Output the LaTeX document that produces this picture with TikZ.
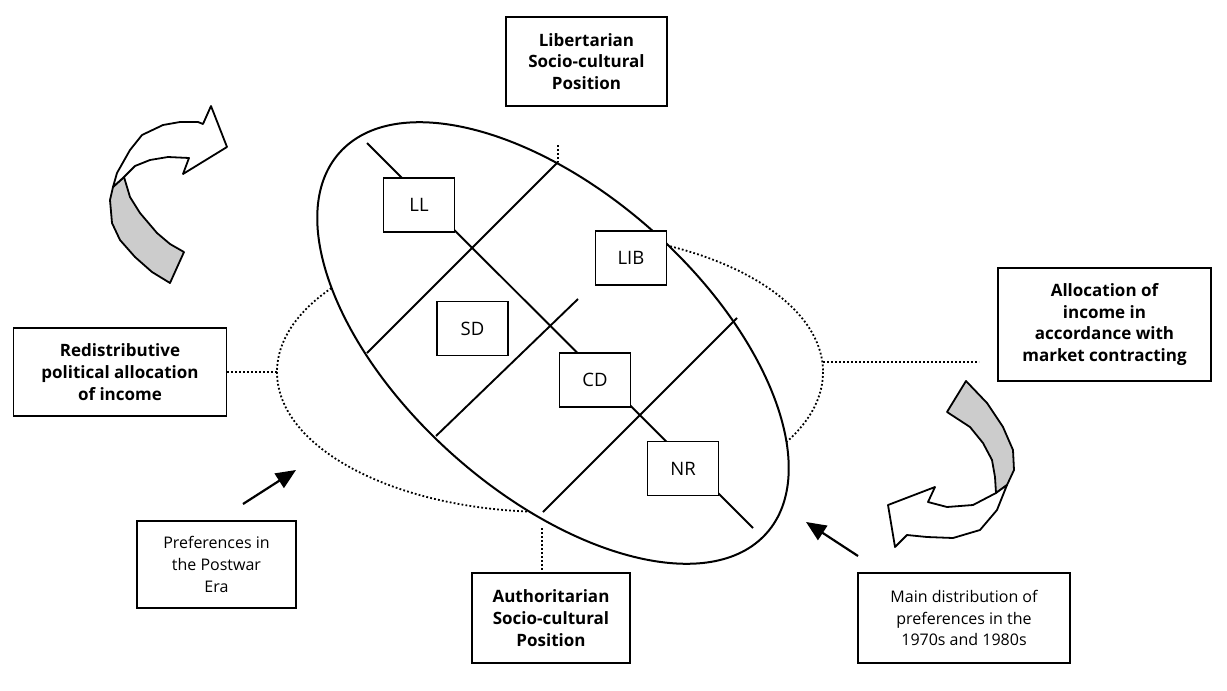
\documentclass[tikz,border=0pt]{standalone}
\usepackage{fontspec}
\setmainfont{Open Sans}
\usetikzlibrary{arrows.meta}
\begin{document}
\begin{tikzpicture}[x=1pt,y=-1pt,
  box/.style={draw, line width=1.9pt, fill=white, align=center, inner sep=0pt},
  bigbox/.style={box, font=\bfseries\fontsize{17}{21.8}\selectfont},
  smallbox/.style={box, font=\fontsize{16}{21.7}\selectfont},
  party/.style={box, font=\fontsize{18.5}{22}\selectfont, minimum width=71pt, minimum height=54pt},
  axisline/.style={line width=1.9pt},
  dotline/.style={line width=1.8pt, dash pattern=on 1.8pt off 2.2pt},
  ptr/.style={line width=2.2pt, -{Triangle[length=20pt,width=17pt]}},
  ribbon/.style={line width=1.8pt, line join=round}
]
\useasboundingbox (0,0) rectangle (1227,691);
\fill[white] (0,0) rectangle (1227,691);

% coordinates
\coordinate (dl) at (277,372);
\coordinate (dr) at (823,362);
\coordinate (drend) at (979,362);
\coordinate (d1) at (367,143);
\coordinate (d2) at (753,528);
\coordinate (a1) at (558,162);
\coordinate (a2) at (367,353);
\coordinate (b1) at (578,299);
\coordinate (b2) at (436,436);
\coordinate (c1) at (737,318);
\coordinate (c2) at (543,512);
\coordinate (libdot) at (558,145);
\coordinate (authdot) at (542,528);
\coordinate (authtop) at (542,573);
\coordinate (p1) at (243,504);
\coordinate (p2) at (296,470);
\coordinate (m1) at (858,556);
\coordinate (m2) at (806,522);

% dotted ellipse
\draw[dotline] (550,372) ellipse [x radius=273, y radius=140];
% main ellipse
\draw[line width=2pt, fill=white, rotate around={-41.7:(553,343)}] (553,343) ellipse [x radius=286, y radius=150];

% axes
\draw[axisline] (d1) -- (d2);
\draw[axisline] (a1) -- (a2);
\draw[axisline] (b1) -- (b2);
\draw[axisline] (c1) -- (c2);

% outer boxes
\node[bigbox, minimum width=161pt, minimum height=89pt] (lib) at (586.5,61.5) {Libertarian\\Socio-cultural\\Position};
\node[bigbox, minimum width=213pt, minimum height=113pt] (alloc) at (1104.5,324.5) {Allocation of\\income in\\accordance with\\market contracting};
\node[bigbox, minimum width=213pt, minimum height=88pt] (redis) at (120,372) {Redistributive\\political allocation\\of income};
\node[bigbox, minimum width=158pt, minimum height=90pt] (auth) at (551,618) {Authoritarian\\Socio-cultural\\Position};
\node[smallbox, minimum width=159pt, minimum height=87pt] (pref) at (216.5,564.5) {Preferences in\\the Postwar\\Era};
\node[smallbox, minimum width=212pt, minimum height=90pt] (mainbox) at (964,618) {Main distribution of\\preferences in the\\1970s and 1980s};

% party boxes
\node[party] (LL) at (419,205) {LL};
\node[party] (LIB) at (631,258) {LIB};
\node[party] (SD) at (472.5,328.5) {SD};
\node[party] (CD) at (595,380) {CD};
\node[party] (NR) at (683,468.5) {NR};

% dotted connectors
\draw[dotline] (redis.east) -- (dl);
\draw[dotline] (dr) -- (drend);
\draw[dotline] (authdot) -- (authtop);
\draw[dotline] (libdot) -- (a1);

% pointer arrows
\draw[ptr] (p1) -- (p2);
\draw[ptr] (m1) -- (m2);

% left ribbon arrow
\draw[ribbon, fill=black!20] (113,187) -- (110,200) -- (112,223) -- (120,240) -- (135,257) -- (152,272) -- (170,283) -- (184,252) -- (170,244) -- (157,233) -- (140,213) -- (130,197) -- (124,177) -- cycle;
\draw[ribbon, fill=white] (113,187) -- (117,173) -- (130,150) -- (142,135) -- (163,125) -- (180,122) -- (198,122) -- (203,124) -- (211,106) -- (227,147) -- (183,174) -- (189,158) -- (168,157) -- (150,160) -- (135,166) -- (124,177) -- cycle;

% right ribbon arrow
\draw[ribbon, fill=black!20] (947,412) -- (966,381) -- (987,403) -- (1003,427) -- (1013,450) -- (1014,470) -- (1007,485) -- (996,493) -- (995,477) -- (992,460) -- (983,443) -- (970,427) -- cycle;
\draw[ribbon, fill=white] (996,493) -- (973,505) -- (947,507) -- (928,502) -- (935,487) -- (888,505) -- (895,547) -- (907,535) -- (927,537) -- (953,538) -- (980,530) -- (997,510) -- (1007,485) -- cycle;
\end{tikzpicture}
\end{document}
